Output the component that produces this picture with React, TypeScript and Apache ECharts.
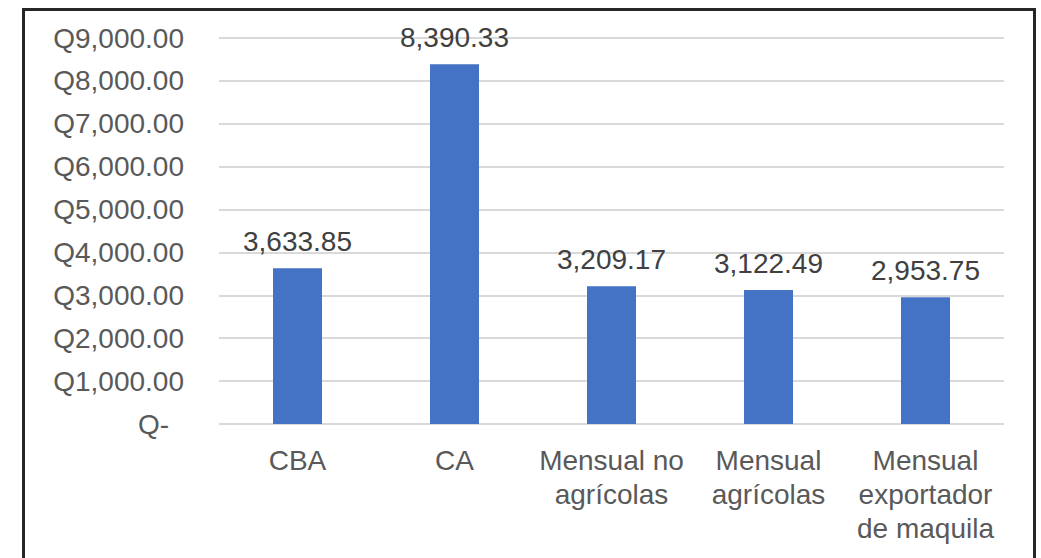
import React, { useEffect, useRef } from "react";
import * as echarts from "echarts";

const categories = ["CBA", "CA", "Mensual no\nagrícolas", "Mensual\nagrícolas", "Mensual\nexportador\nde maquila"];
const values = [3633.85, 8390.33, 3209.17, 3122.49, 2953.75];
const yMin = 0;
const yMax = 9000;
const yInterval = 1000;

const fmt = (v: number) =>
  v.toLocaleString("en-US", { minimumFractionDigits: 2, maximumFractionDigits: 2 });

export default function App() {
  const ref = useRef<HTMLDivElement>(null);
  useEffect(() => {
    if (!ref.current) return;
    const chart = echarts.init(ref.current, undefined, { renderer: "svg" });
    const font = "Liberation Sans, Arial, sans-serif";
    chart.setOption({
      animation: false,
      backgroundColor: "#ffffff",
      grid: { left: 219, right: 37, top: 38, bottom: 134, containLabel: false },
      xAxis: {
        type: "category",
        data: categories,
        axisLine: { show: false },
        axisTick: { show: false },
        axisLabel: {
          interval: 0,
          margin: 19,
          color: "#595959",
          fontFamily: font,
          fontSize: 28,
          lineHeight: 34,
        },
      },
      yAxis: {
        type: "value",
        min: yMin,
        max: yMax,
        interval: yInterval,
        axisLine: { show: false },
        axisTick: { show: false },
        splitLine: { lineStyle: { color: "#d9d9d9", width: 2 } },
        axisLabel: {
          margin: 35,
          color: "#595959",
          fontFamily: font,
          fontSize: 28,
          formatter: (v: number) => (v === 0 ? "{z|Q-}" : "Q" + fmt(v)),
          rich: {
            z: { color: "#595959", fontFamily: font, fontSize: 28, padding: [0, 15, 0, 0] },
          },
        },
      },
      series: [
        {
          type: "bar",
          data: values,
          barWidth: 49,
          itemStyle: { color: "#4472c4" },
          label: {
            show: true,
            position: "top",
            distance: 13,
            color: "#404040",
            fontFamily: font,
            fontSize: 28,
            formatter: (p: any) => fmt(p.value),
          },
        },
      ],
      graphic: [
        {
          type: "rect",
          shape: { x: 23.5, y: 9.5, width: 1011, height: 600 },
          style: { fill: "none", stroke: "#262626", lineWidth: 3 },
          z: 100,
        },
      ],
    });
    return () => chart.dispose();
  }, []);
  return (
    <div
      ref={ref}
      style={{ position: "fixed", left: 0, top: 0, width: 1041, height: 558 }}
    />
  );
}
